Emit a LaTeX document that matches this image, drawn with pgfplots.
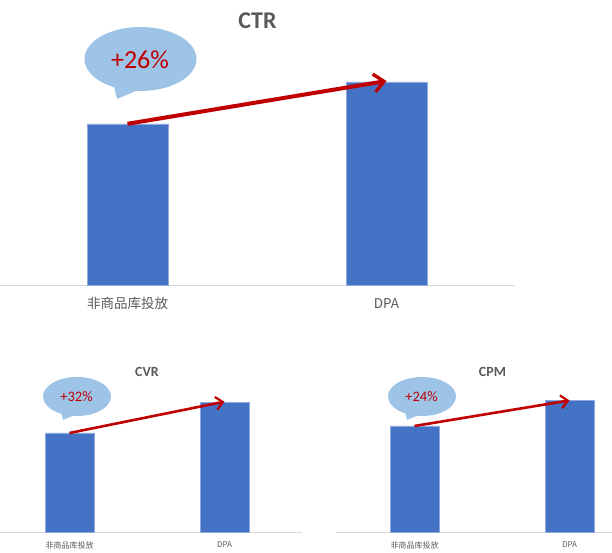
\documentclass[border=0pt]{standalone}
\usepackage{fontspec}
\setmainfont{Carlito}
\newfontfamily\cjk{Noto Sans CJK SC}
\usepackage{pgfplots}
\pgfplotsset{compat=1.18}
\usetikzlibrary{arrows.meta}
\definecolor{barblue}{HTML}{4472C4}
\definecolor{baredge}{HTML}{8FAADC}
\definecolor{bubble}{HTML}{9DC3E6}
\definecolor{arrowred}{HTML}{C00000}
\definecolor{axisgray}{HTML}{D9D9D9}
\definecolor{textgray}{HTML}{595959}
\pgfplotsset{
  panel/.style={
    scale only axis, clip=false,
    anchor=south west,
    axis y line=none, axis x line*=bottom,
    x axis line style={-, draw=axisgray, line width=1.2pt},
    xtick={0,1}, major tick length=0pt,
    ymin=0,
    title style={anchor=center, font=\bfseries, text=textgray, yshift=-6pt},
    xticklabel style={text=textgray, anchor=center},
  }
}
% px -> pt with flipped y
\newcommand{\bubble}[6]{% cx, cy, rx, ry, tipx, tipy
  \fill[bubble] (#1pt,553pt-#2pt) ellipse [x radius=#3pt, y radius=#4pt];
  \fill[bubble] (#5pt,553pt-#6pt) -- (#5pt-3pt*#3/34,553pt-#6pt+13pt*#4/19.5)
     -- (#5pt+14pt*#3/34,553pt-#6pt+6pt*#4/19.5) -- cycle;
}
\begin{document}
\begin{tikzpicture}[x=1pt,y=1pt]
\path[use as bounding box] (0,0) rectangle (612pt,553pt);

% CTR
\bubble{140.5}{59}{56}{32}{117}{99}
\node[text=arrowred, font=\fontsize{26}{26}\selectfont] at (140pt,553pt-60pt) {+26\%};
\begin{axis}[panel, at={(0pt,267.5pt)}, width=515pt, height=265pt,
  xmin=-0.4923, xmax=1.4961, ymax=163.9,
  title={CTR}, title style={at={(0.5,1)}, font=\bfseries\fontsize{24}{24}\selectfont},
  xticklabels={{\cjk 非商品库投放},{\cjk DPA}},
  xticklabel style={font=\fontsize{13.5}{14}\selectfont, yshift=-18pt}]
\addplot[ybar, bar width=81pt, fill=barblue, draw=baredge, line width=0.5pt]
  coordinates {(0,100) (1,126)};
\addplot[arrowred, line width=4pt, -{Straight Barb[length=10pt,width=18pt,line width=3.4pt]}]
  coordinates {(0,100) (1,126.5)};
\end{axis}

% CVR
\bubble{77}{396.5}{34}{19.5}{63}{420}
\node[text=arrowred, font=\fontsize{14.5}{15}\selectfont] at (76.5pt,553pt-397pt) {+32\%};
\begin{axis}[panel, at={(0pt,20.5pt)}, width=302pt, height=160.5pt,
  xmin=-0.4484, xmax=1.5, ymax=161.3,
  title={CVR}, title style={at={(0.4868,1)}, font=\bfseries\fontsize{14}{14}\selectfont},
  xticklabels={{\cjk 非商品库投放},{\cjk DPA}},
  xticklabel style={font=\fontsize{8}{9}\selectfont, yshift=-12.5pt}]
\addplot[ybar, bar width=49pt, fill=barblue, draw=baredge, line width=0.5pt]
  coordinates {(0,100) (1,131)};
\addplot[arrowred, line width=2.6pt, -{Straight Barb[length=7pt,width=13pt,line width=2.2pt]}]
  coordinates {(0,100) (1,131.5)};
\end{axis}

% CPM
\bubble{422}{396.5}{34}{19.5}{407}{420}
\node[text=arrowred, font=\fontsize{14.5}{15}\selectfont] at (421.5pt,553pt-397pt) {+24\%};
\begin{axis}[panel, at={(336pt,20.5pt)}, width=276pt, height=160.5pt,
  xmin=-0.5065, xmax=1.2742, ymax=150.7,
  title={CPM}, title style={at={(0.5670,1)}, font=\bfseries\fontsize{14}{14}\selectfont},
  xticklabels={{\cjk 非商品库投放},{\cjk DPA}},
  xticklabel style={font=\fontsize{8}{9}\selectfont, yshift=-12.5pt}]
\addplot[ybar, bar width=49pt, fill=barblue, draw=baredge, line width=0.5pt]
  coordinates {(0,100) (1,124)};
\addplot[arrowred, line width=2.6pt, -{Straight Barb[length=7pt,width=13pt,line width=2.2pt]}]
  coordinates {(0,100) (1,124)};
\end{axis}
\end{tikzpicture}
\end{document}
